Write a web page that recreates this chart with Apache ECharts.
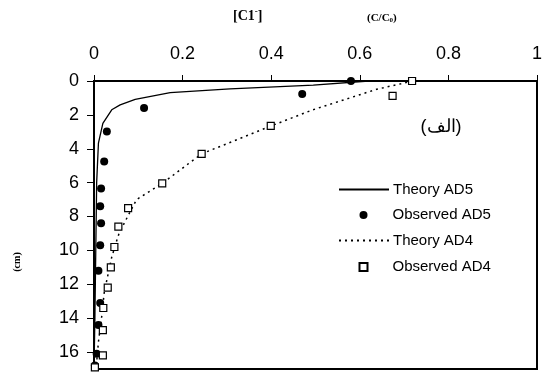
<!DOCTYPE html>
<html><head><meta charset="utf-8">
<script src="https://cdn.jsdelivr.net/npm/echarts@6/dist/echarts.min.js"></script>
<style>html,body{margin:0;padding:0;background:#fff}#c{width:550px;height:374px}</style>
</head><body><div id="c"></div>
<script>
// Observed AD5: [C/C0, depth cm]
var obsAD5X = [0.58, 0.47, 0.113, 0.029, 0.023, 0.016, 0.014, 0.016, 0.014, 0.010, 0.014, 0.010, 0.006, 0.002];
var obsAD5Y = [0, 0.76, 1.6, 2.98, 4.75, 6.35, 7.4, 8.4, 9.7, 11.2, 13.1, 14.4, 16.1, 16.8];
// Observed AD4
var obsAD4X = [0.718, 0.674, 0.399, 0.243, 0.154, 0.077, 0.055, 0.046, 0.038, 0.031, 0.021, 0.020, 0.020, 0.002];
var obsAD4Y = [0, 0.88, 2.65, 4.3, 6.04, 7.5, 8.6, 9.8, 11.0, 12.2, 13.4, 14.7, 16.2, 16.9];
// Theory AD5 curve
var thAD5X = [0.62, 0.495, 0.307, 0.172, 0.093, 0.059, 0.04, 0.02, 0.01, 0.006, 0.004, 0.002, 0.0];
var thAD5Y = [0, 0.24, 0.47, 0.69, 1.08, 1.41, 1.7, 2.5, 3.67, 6, 10, 14, 17];
// Theory AD4 curve
var thAD4X = [0.72, 0.638, 0.494, 0.40, 0.243, 0.154, 0.096, 0.077, 0.057, 0.051, 0.04, 0.031, 0.023, 0.017, 0.01, 0.006, 0.003];
var thAD4Y = [0, 0.49, 1.7, 2.65, 4.3, 6.04, 7.0, 7.95, 8.96, 9.45, 10.4, 11.5, 12.5, 14.0, 15.4, 16.6, 17];
var xTicks = [0, 0.2, 0.4, 0.6, 0.8, 1];
var yTicks = [0, 2, 4, 6, 8, 10, 12, 14, 16];
var yMax = 17;
var seriesNames = ['Theory AD5', 'Observed AD5', 'Theory AD4', 'Observed AD4'];

function pairs(xs, ys){ return xs.map(function(v,i){ return [v, ys[i]]; }); }

var chart = echarts.init(document.getElementById('c'));
var legendText = {fontFamily: 'Liberation Sans', fontSize: 15, color: '#000'};
chart.setOption({
  animation: false,
  backgroundColor: '#fff',
  graphic: [
    {type: 'text', x: 233, y: 16, style: {text: '[C1{s|-}]', fill: '#000', font: 'bold 14px "Liberation Serif"', verticalAlign: 'middle',
      rich: {s: {fontSize: 9, fontWeight: 'bold', fontFamily: 'Liberation Serif', padding: [0,0,8,0]}}}},
    {type: 'text', x: 367, y: 18, style: {text: '(C/C{s|0})', fill: '#000', font: 'bold 11px "Liberation Serif"', verticalAlign: 'middle',
      rich: {s: {fontSize: 7, fontWeight: 'bold', fontFamily: 'Liberation Serif', padding: [4,0,0,0]}}}},
    {type: 'text', x: 441, y: 127, style: {text: '(الف)', fill: '#000', font: '18px "Liberation Sans"', align: 'center', verticalAlign: 'middle'}},
    {type: 'text', x: 17.5, y: 262, rotation: Math.PI/2, style: {text: '(cm)', fill: '#000', font: 'bold 10px "Liberation Serif"', align: 'center', verticalAlign: 'middle'}}
  ],
  legend: [
    {orient: 'vertical', left: 333, top: 177, itemWidth: 50, itemHeight: 8, itemGap: 36,
     itemStyle: {color: 'rgba(0,0,0,0)', borderColor: 'rgba(0,0,0,0)', borderWidth: 0, opacity: 0},
     textStyle: Object.assign({padding: [0,0,0,-1]}, legendText), selectedMode: false,
     data: [seriesNames[0], seriesNames[2]]},
    {orient: 'vertical', left: 353.5, top: 202.5, itemWidth: 8, itemHeight: 8, itemGap: 37,
     textStyle: Object.assign({padding: [0,0,0,20]}, legendText), selectedMode: false,
     data: [seriesNames[1], seriesNames[3]]}
  ],
  grid: {left: 94, top: 81, width: 443, height: 288, show: true, borderColor: '#000', borderWidth: 2, containLabel: false},
  xAxis: {
    type: 'value', position: 'top', min: xTicks[0], max: xTicks[xTicks.length-1], interval: 0.2,
    axisLine: {show: true, lineStyle: {color: '#000', width: 2}},
    axisTick: {show: true, length: 6, lineStyle: {color: '#000', width: 1}},
    axisLabel: {margin: 18, fontFamily: 'Liberation Sans', fontSize: 18, color: '#000', formatter: function(v){ return String(+v.toFixed(1)); }},
    splitLine: {show: false}
  },
  yAxis: {
    type: 'value', inverse: true, min: yTicks[0], max: yMax, interval: 2,
    axisLine: {show: true, lineStyle: {color: '#000', width: 2}},
    axisTick: {show: true, length: 7, lineStyle: {color: '#000', width: 1}},
    axisLabel: {margin: 15, showMaxLabel: false, fontFamily: 'Liberation Sans', fontSize: 18, color: '#000'},
    splitLine: {show: false}
  },
  series: [
    {name: seriesNames[0], type: 'line', data: pairs(thAD5X, thAD5Y), symbol: 'none', smooth: false, z: 3,
     lineStyle: {color: '#000', width: 1.3, type: 'solid'}, itemStyle: {color: '#000'}},
    {name: seriesNames[1], type: 'scatter', data: pairs(obsAD5X, obsAD5Y), symbol: 'circle', symbolSize: 8, z: 4,
     itemStyle: {color: '#000', opacity: 1}},
    {name: seriesNames[2], type: 'line', data: pairs(thAD4X, thAD4Y), symbol: 'none', smooth: false, z: 3,
     lineStyle: {color: '#000', width: 1.5, type: [2, 4]}, itemStyle: {color: '#000'}},
    {name: seriesNames[3], type: 'scatter', data: pairs(obsAD4X, obsAD4Y), symbol: 'rect', symbolSize: 7, z: 5,
     itemStyle: {color: '#fff', borderColor: '#000', borderWidth: 1.2, opacity: 1}}
  ]
});
</script></body></html>
